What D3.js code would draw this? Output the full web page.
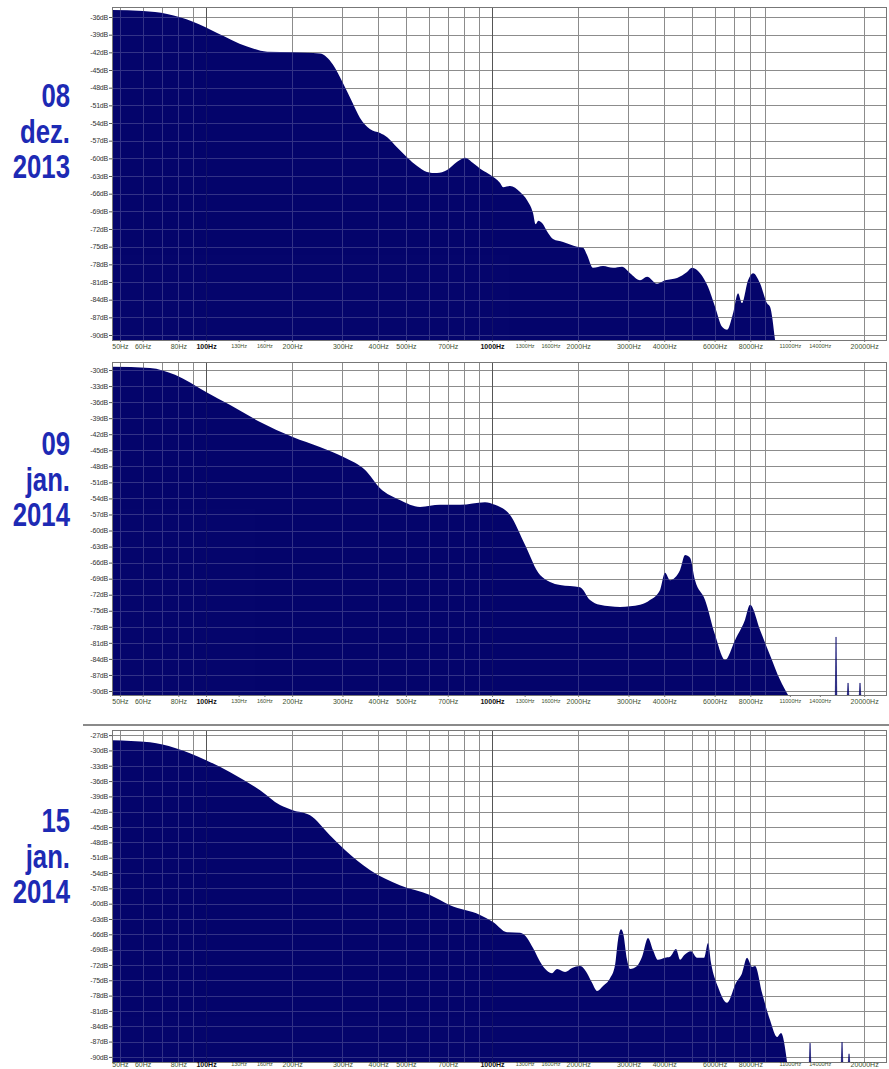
<!DOCTYPE html>
<html>
<head>
<meta charset="utf-8">
<script src="https://cdn.jsdelivr.net/npm/d3@7"></script>
<style>
  body { margin: 0; background: #fff; }
  svg text { font-family: Arial, "Liberation Sans", sans-serif; }
</style>
</head>
<body>
<div id="chart"></div>
<script>
// ---- data ----
const gridFreqs = [50, 60, 70, 80, 90, 100, 200, 300, 400, 500, 600, 700, 800, 900, 1000,
  2000, 3000, 4000, 5000, 6000, 7000, 8000, 9000, 20000];
const labelFreqs = [50, 60, 80, 100, 130, 160, 200, 300, 400, 500, 700, 1000, 1300, 1600, 2000,
  3000, 4000, 6000, 8000, 11000, 14000, 20000];
const boldFreqs = [100, 1000];
const smallFreqs = [130, 160, 1300, 1600, 11000, 14000];

// 08 dez. 2013
const dec08Freq = [46.9, 60.2, 73.1, 90, 109.3, 139.1, 163.5, 201, 250, 278, 301, 324, 345, 374, 406, 430,
  465, 504, 547, 592, 642, 696, 755, 805, 858, 923, 984, 1067, 1093, 1156, 1253, 1326, 1391, 1420, 1452,
  1496, 1570, 1634, 1772, 1983, 2081, 2149, 2255, 2444, 2649, 2848, 3038, 3293, 3483, 3776, 4027, 4436,
  4807, 5004, 5338, 5690, 6022, 6372, 6634, 6962, 7247, 7483, 7856, 8178, 8651, 9153, 9376, 9761];
const dec08Db = [-34.8, -35.0, -35.5, -36.8, -38.7, -41.0, -41.9, -42.0, -42.2, -44.1, -47.2, -50.4, -53.1,
  -55.0, -55.7, -56.4, -58.1, -59.8, -61.3, -62.3, -62.5, -62.0, -60.6, -59.9, -60.8, -62.0, -62.8, -64.2,
  -64.9, -64.7, -65.7, -67.1, -69.3, -71.2, -70.6, -71.0, -72.7, -73.7, -74.2, -75.0, -75.2, -76.4, -78.6,
  -78.3, -78.6, -78.4, -79.5, -80.7, -80.1, -81.3, -80.7, -80.3, -79.3, -78.6, -79.5, -81.8, -85.2, -88.6,
  -89.1, -86.3, -82.9, -84.6, -80.7, -79.5, -81.2, -84.6, -85.2, -91];

// 09 jan. 2014
const jan09Freq = [46.9, 63.7, 77.9, 100, 121, 154.5, 201, 250, 306, 360, 406, 476, 560, 658, 773, 945,
  1024, 1156, 1305, 1472, 1729, 2031, 2201, 2380, 2803, 3293, 3567, 3868, 4027, 4192, 4544, 4731, 4924,
  5126, 5557, 6022, 6527, 7072, 7666, 7981, 8651, 9376, 10162, 10839];
const jan09Db = [-29.4, -29.6, -30.9, -34.1, -36.5, -39.7, -42.5, -44.4, -46.4, -48.7, -52.1, -54.3, -55.6,
  -55.2, -55.2, -54.7, -55.2, -57.1, -62.7, -68.3, -70.2, -70.6, -73.0, -73.9, -74.3, -73.9, -73.0, -71.1,
  -67.9, -69.3, -67.4, -64.6, -65.1, -69.3, -73.0, -79.5, -84.2, -80.5, -76.7, -73.9, -78.6, -83.3, -87.9,
  -91];
const jan09SpikeFreq = [15950, 17570, 19350];
const jan09SpikeDb = [-79.9, -88.5, -88.5];

// 15 jan. 2014
const jan15Freq = [46.9, 63.7, 77.9, 100, 121, 154.5, 181.4, 201, 231, 271, 306, 374, 476, 607, 713, 908,
  1008, 1128, 1253, 1326, 1391, 1496, 1621, 1688, 1800, 1904, 2031, 2149, 2237, 2329, 2444, 2586, 2692,
  2757, 2825, 2871, 2965, 3038, 3214, 3346, 3512, 3656, 3805, 4027, 4192, 4399, 4544, 4692, 4963, 5209,
  5512, 5690, 5831, 6169, 6634, 7130, 7483, 7791, 8111, 8309, 8794, 9376, 9920, 10245, 10752];
const jan15Db = [-28.0, -28.4, -29.5, -31.9, -34.2, -37.8, -40.7, -41.7, -42.7, -46.6, -49.5, -53.4, -56.4,
  -58.3, -60.3, -62.2, -63.6, -65.6, -65.7, -66.7, -68.7, -72.0, -73.6, -72.8, -73.4, -72.6, -72.2, -73.6,
  -75.5, -77.1, -76.1, -74.6, -72.0, -67.1, -65.0, -65.7, -71.0, -72.8, -72.2, -70.4, -66.7, -69.1, -71.0,
  -70.6, -70.4, -68.9, -71.0, -70.1, -69.3, -70.6, -70.6, -67.7, -71.6, -76.3, -79.4, -75.5, -73.6, -70.6,
  -72.4, -72.2, -77.5, -82.8, -86.1, -85.3, -91];
const jan15SpikeFreq = [12940, 16740, 17710];
const jan15SpikeDb = [-87.3, -87.1, -89.4];
const jan15Markers = [5690];

// ---- layout ----
const NAVY = "#05056c";
const LABEL_BLUE = "#1d2ab4";
const width = 889, height = 1069;

const panels = [
  { top: 7, bottom: 340, dbTop: -34.3, dbBottom: -90.85, ticks: d3.range(-36, -91, -3),
    freq: dec08Freq, db: dec08Db, spikeFreq: [], spikeDb: [], markers: [],
    date: ["08", "dez.", "2013"], dateY: 107, tickGap: 2 },
  { top: 362, bottom: 695, dbTop: -28.5, dbBottom: -90.75, ticks: d3.range(-30, -91, -3),
    freq: jan09Freq, db: jan09Db, spikeFreq: jan09SpikeFreq, spikeDb: jan09SpikeDb, markers: [],
    date: ["09", "jan.", "2014"], dateY: 455, tickGap: 2 },
  { top: 730, bottom: 1062, dbTop: -26.0, dbBottom: -91.0, ticks: d3.range(-27, -91, -3),
    freq: jan15Freq, db: jan15Db, spikeFreq: jan15SpikeFreq, spikeDb: jan15SpikeDb, markers: jan15Markers,
    date: ["15", "jan.", "2014"], dateY: 832, tickGap: 0 }
];

const svg = d3.select("#chart")
  .append("svg")
  .attr("width", width)
  .attr("height", height);

const x = d3.scaleLog().domain([46.9, 23850]).range([112, 886]);

// separator above the last panel
svg.append("line")
  .attr("x1", 83).attr("x2", width)
  .attr("y1", 725).attr("y2", 725)
  .attr("stroke", "#8a8a8a")
  .attr("stroke-width", 2);

function drawGrid(g, y, p, color, opacity) {
  const grid = g.append("g").attr("opacity", opacity);
  grid.selectAll(".h")
    .data(p.ticks)
    .join("line")
      .attr("x1", x.range()[0]).attr("x2", x.range()[1])
      .attr("y1", d => Math.round(y(d)) + 0.5).attr("y2", d => Math.round(y(d)) + 0.5)
      .attr("stroke", color);
  grid.selectAll(".v")
    .data(gridFreqs.concat(p.markers))
    .join("line")
      .attr("x1", d => Math.round(x(d)) + 0.5).attr("x2", d => Math.round(x(d)) + 0.5)
      .attr("y1", p.top).attr("y2", p.bottom)
      .attr("stroke", d => boldFreqs.includes(d) ? "#555" : color);
}

panels.forEach(p => {
  const y = d3.scaleLinear().domain([p.dbTop, p.dbBottom]).range([p.top, p.bottom]).clamp(true);
  const g = svg.append("g");

  drawGrid(g, y, p, "#8c8c8c", 1);

  const area = d3.area()
    .x(d => x(d[0]))
    .y0(p.bottom)
    .y1(d => y(d[1]))
    .curve(d3.curveMonotoneX);

  g.append("path")
    .datum(d3.zip(p.freq, p.db))
    .attr("fill", NAVY)
    .attr("d", area);

  p.spikeFreq.forEach((f, i) => {
    g.append("path")
      .datum([[f / 1.006, p.dbBottom], [f, p.spikeDb[i]], [f * 1.006, p.dbBottom]])
      .attr("fill", NAVY)
      .attr("stroke", NAVY)
      .attr("stroke-width", 0.6)
      .attr("d", d3.area().x(d => x(d[0])).y0(p.bottom).y1(d => y(d[1])));
  });

  // grid showing faintly through the fill
  const clipId = "clip" + p.top;
  g.append("clipPath").attr("id", clipId)
    .append("path")
    .datum(d3.zip(p.freq, p.db))
    .attr("d", area);
  const over = g.append("g").attr("clip-path", `url(#${clipId})`);
  drawGrid(over, y, p, "#ffffff", 0.18);

  // frame
  g.append("rect")
    .attr("x", x.range()[0] + 0.5).attr("y", p.top + 0.5)
    .attr("width", x.range()[1] - x.range()[0]).attr("height", p.bottom - p.top)
    .attr("fill", "none")
    .attr("stroke", "#777");

  // y axis
  const yAxis = g.append("g")
    .attr("transform", `translate(${x.range()[0]},0)`)
    .call(d3.axisLeft(y).tickValues(p.ticks).tickFormat(d => d + "dB").tickSize(3).tickPadding(1));
  yAxis.select(".domain").remove();
  yAxis.selectAll("line").attr("stroke", "#555");
  yAxis.selectAll("text")
    .attr("font-size", 7)
    .attr("fill", "#333")
    .style("letter-spacing", "-0.2px");

  // x axis
  const xAxis = g.append("g")
    .attr("transform", `translate(0,${p.bottom})`)
    .call(d3.axisBottom(x).tickValues(labelFreqs).tickFormat(d => d + "Hz")
      .tickSize(p.tickGap).tickPadding(p.tickGap));
  xAxis.select(".domain").remove();
  xAxis.selectAll("line").attr("stroke", "#777");
  xAxis.selectAll("text")
    .attr("font-size", d => smallFreqs.includes(d) ? 5.5 : 7)
    .attr("font-weight", d => boldFreqs.includes(d) ? "bold" : "normal")
    .attr("fill", d => boldFreqs.includes(d) ? "#111" : "#3f5232");

  // date label, one text per line, squeezed to a narrow face
  g.selectAll(".date")
    .data(p.date)
    .join("text")
      .attr("class", "date")
      .attr("transform", (d, i) => `translate(70,${p.dateY + i * 35.5}) scale(0.78,1)`)
      .attr("text-anchor", "end")
      .attr("fill", LABEL_BLUE)
      .attr("font-weight", "bold")
      .attr("font-size", 33)
      .style("font-family", '"Liberation Sans", Arial, sans-serif')
      .text(d => d);
});
</script>
</body>
</html>
